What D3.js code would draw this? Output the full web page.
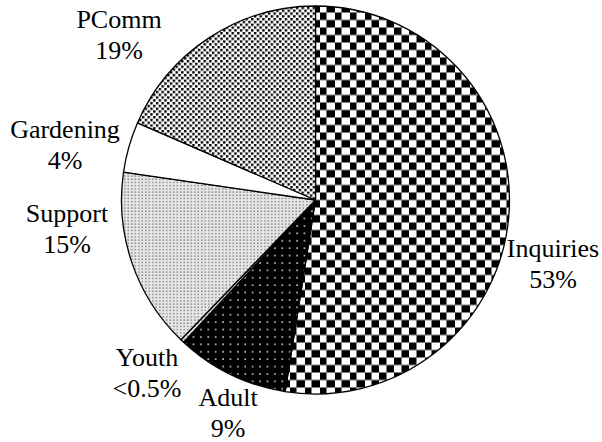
<!DOCTYPE html>
<html>
<head>
<meta charset="utf-8">
<script src="https://cdn.jsdelivr.net/npm/d3@7"></script>
<style>
  html, body { margin: 0; padding: 0; background: #fff; }
  svg { display: block; }
</style>
</head>
<body>
<svg id="chart" width="602" height="442"></svg>
<script>
// ---- data ----
const categories = ["Inquiries", "Adult", "Youth", "Support", "Gardening", "PComm"];
const shares     = [52.5, 9.4, 0.3, 15.1, 4.2, 18.5];
const pctLabels  = ["53%", "9%", "<0.5%", "15%", "4%", "19%"];

// ---- layout ----
const W = 602, H = 442;
const cx = 315.5, cy = 200, R = 194;
const FONT = "Liberation Serif, Times New Roman, Times, serif";
const fills = {
  Inquiries: "url(#checker)",
  Adult: "url(#blackdots)",
  Youth: "url(#lightdots)",
  Support: "url(#lightdots)",
  Gardening: "#ffffff",
  PComm: "url(#darkdots)"
};
const labelPos = {
  Inquiries: [553, 257],
  Adult: [228, 406],
  Youth: [147, 366],
  Support: [67, 222],
  Gardening: [65, 138],
  PComm: [119, 28]
};
const lineGap = 31;

const svg = d3.select("#chart");
const defs = svg.append("defs");

// checkerboard
const chk = defs.append("pattern").attr("id", "checker")
  .attr("patternUnits", "userSpaceOnUse")
  .attr("x", 333.5).attr("y", 112.5).attr("width", 15).attr("height", 15);
chk.append("rect").attr("width", 15).attr("height", 15).attr("fill", "#fff");
chk.append("rect").attr("x", 0).attr("y", 0).attr("width", 7.5).attr("height", 7.5).attr("fill", "#000");
chk.append("rect").attr("x", 7.5).attr("y", 7.5).attr("width", 7.5).attr("height", 7.5).attr("fill", "#000");

// black with light dots
const bd = defs.append("pattern").attr("id", "blackdots")
  .attr("patternUnits", "userSpaceOnUse")
  .attr("width", 7.4).attr("height", 7.4);
bd.append("rect").attr("width", 7.4).attr("height", 7.4).attr("fill", "#000");
bd.append("rect").attr("x", 3).attr("y", 3).attr("width", 1.6).attr("height", 1.6).attr("fill", "#ccc");

// light grey fine dots
const ld = defs.append("pattern").attr("id", "lightdots")
  .attr("patternUnits", "userSpaceOnUse")
  .attr("width", 3.5).attr("height", 3.2);
ld.append("rect").attr("width", 3.5).attr("height", 3.2).attr("fill", "#e6e6e6");
ld.append("rect").attr("x", 1).attr("y", 1).attr("width", 1.6).attr("height", 1.4).attr("fill", "#8a8a8a");

// dark dots on white (staggered)
const dd = defs.append("pattern").attr("id", "darkdots")
  .attr("patternUnits", "userSpaceOnUse")
  .attr("width", 5.6).attr("height", 5.6);
dd.append("rect").attr("width", 5.6).attr("height", 5.6).attr("fill", "#fff");
dd.append("rect").attr("x", 0).attr("y", 0).attr("width", 2.4).attr("height", 2.4).attr("fill", "#000");
dd.append("rect").attr("x", 2.8).attr("y", 2.8).attr("width", 2.4).attr("height", 2.4).attr("fill", "#000");

const data = categories.map((c, i) => ({ cat: c, value: shares[i], pct: pctLabels[i] }));

const pie = d3.pie().sort(null).value(d => d.value).startAngle(0).endAngle(2 * Math.PI);
const arc = d3.arc().innerRadius(0).outerRadius(R);

const g = svg.append("g").attr("transform", `translate(${cx},${cy})`);
g.selectAll("path.slice")
  .data(pie(data))
  .join("path")
  .attr("class", "slice")
  .attr("d", arc)
  .attr("fill", d => fills[d.data.cat])
  .attr("stroke", "#000")
  .attr("stroke-width", 1.3)
  .attr("stroke-linejoin", "round");

const lbl = svg.append("g");
data.forEach(d => {
  const [x, y] = labelPos[d.cat];
  const t = lbl.append("text")
    .attr("text-anchor", "middle")
    .style("font-family", FONT)
    .style("font-size", "26px")
    .attr("fill", "#000");
  t.append("tspan").attr("x", x).attr("y", y).text(d.cat);
  t.append("tspan").attr("x", x).attr("y", y + lineGap).text(d.pct);
});
</script>
</body>
</html>
